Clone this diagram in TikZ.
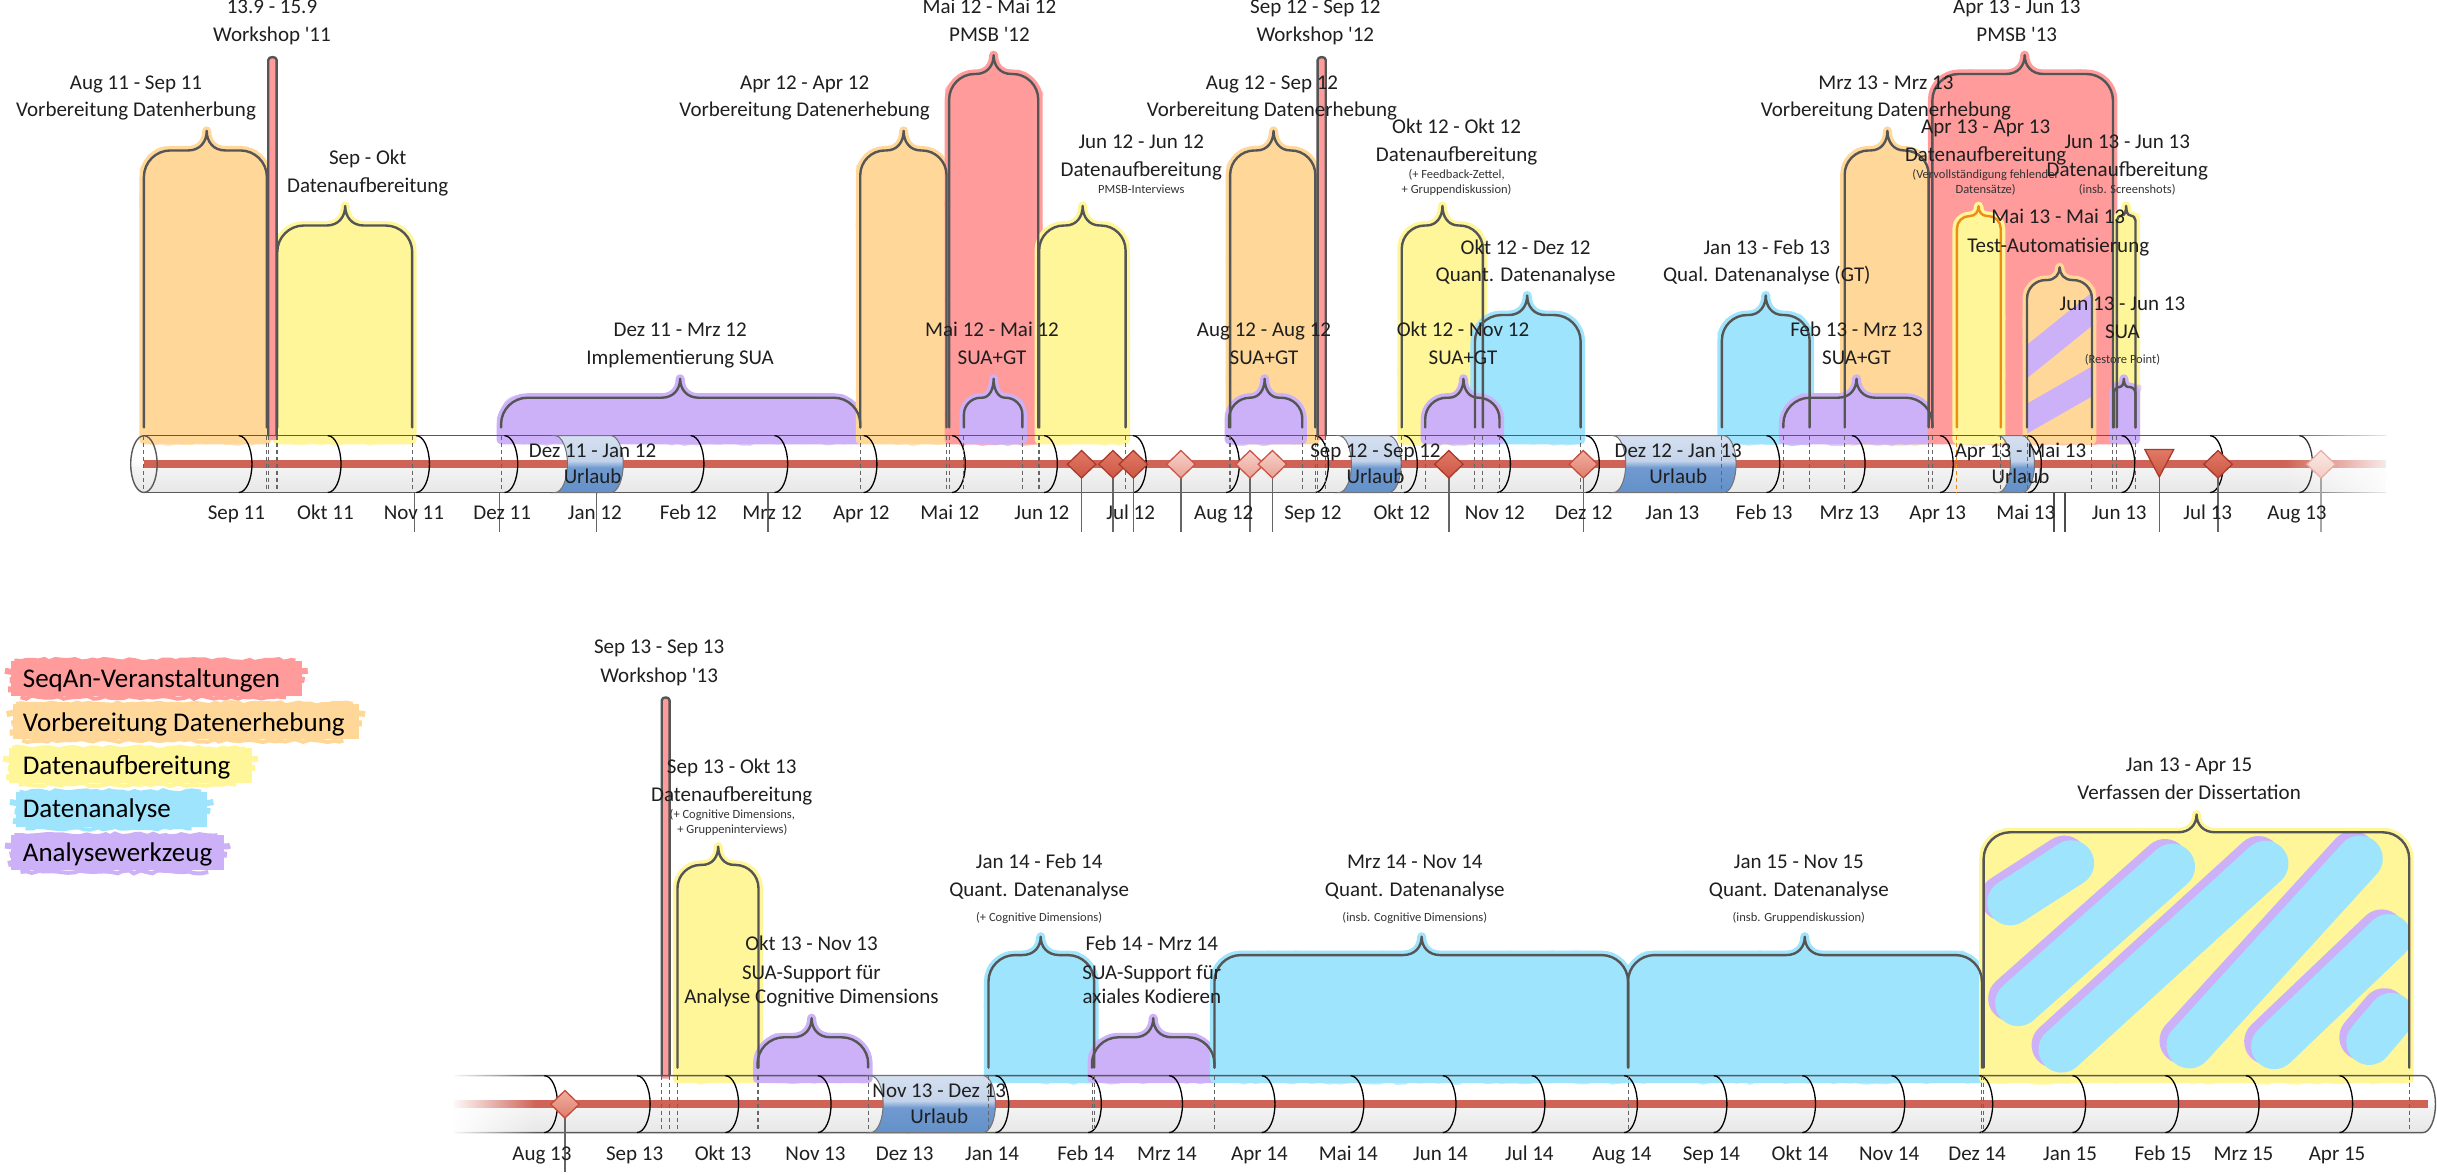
\documentclass[tikz,border=0pt]{standalone}
\usepackage{fontspec}
\setmainfont{Carlito}
\usetikzlibrary{shapes.geometric,fadings,decorations.pathmorphing}
\definecolor{cRe}{RGB}{255,155,155}
\definecolor{cOr}{RGB}{255,216,153}
\definecolor{cYe}{RGB}{255,246,153}
\definecolor{cBl}{RGB}{158,228,253}
\definecolor{cPu}{RGB}{204,176,248}
\definecolor{cLine}{RGB}{85,85,85}
\definecolor{cRed}{RGB}{207,99,86}
\definecolor{cOrLine}{RGB}{240,140,20}
\definecolor{dDT}{RGB}{225,122,102}\definecolor{dDB}{RGB}{204,86,68}\definecolor{dDR}{RGB}{170,58,44}
\definecolor{dMT}{RGB}{242,175,160}\definecolor{dMB}{RGB}{222,125,108}\definecolor{dMR}{RGB}{195,75,60}
\definecolor{dLT}{RGB}{248,210,203}\definecolor{dLB}{RGB}{232,162,150}\definecolor{dLR}{RGB}{205,85,70}
\definecolor{dFT}{RGB}{251,233,229}\definecolor{dFB}{RGB}{242,204,196}\definecolor{dFR}{RGB}{232,175,165}
\definecolor{uTop}{RGB}{232,238,247}
\definecolor{uMid}{RGB}{196,212,234}
\definecolor{uLow}{RGB}{112,154,208}
\definecolor{uBot}{RGB}{86,134,194}
\pgfdeclareverticalshading{cyl}{100bp}{color(0bp)=(gray!6); color(22bp)=(gray!20); color(45bp)=(gray!10); color(55bp)=(white); color(100bp)=(white)}
\pgfdeclareverticalshading{urlaub}{100bp}{color(0bp)=(uBot); color(47bp)=(uLow); color(53bp)=(uMid); color(100bp)=(uTop)}

\newcommand\evcalc[6]{%
  \pgfmathsetmacro\bxA{#1}\pgfmathsetmacro\bxB{#2}%
  \pgfmathsetmacro\byT{#3}\pgfmathsetmacro\bxP{#4}%
  \pgfmathsetmacro\byP{#5}\pgfmathsetmacro\byB{#6}%
  \pgfmathsetmacro\bR{min(17,(#2-#1)/3.5)}%
  \pgfmathsetmacro\bQ{min(12,(#2-#1)/5)}%
  \pgfmathsetmacro\bC{0.45*\bR}%
  \pgfmathsetmacro\byM{#3-0.45*(#3-#5)}%
}
\newcommand\bracepts{(\bxA,\byB) -- (\bxA,\byT+\bR) .. controls (\bxA,\byT+\bC) and (\bxA+\bC,\byT) .. (\bxA+\bR,\byT) -- (\bxP-\bQ,\byT) .. controls (\bxP-0.35*\bQ,\byT) and (\bxP,\byM) .. (\bxP,\byP) .. controls (\bxP,\byM) and (\bxP+0.35*\bQ,\byT) .. (\bxP+\bQ,\byT) -- (\bxB-\bR,\byT) .. controls (\bxB-\bC,\byT) and (\bxB,\byT+\bC) .. (\bxB,\byT+\bR) -- (\bxB,\byB)}
\newcommand\urlaub[4]{%
  \pgfmathsetmacro\uM{(#3+#4)/2}\pgfmathsetmacro\uK{0.552*(#4-#3)/2}%
  \path[shade, shading=urlaub, draw=black!55, line width=1pt] (#1,#3) -- (#2,#3) .. controls (#2+4.4,#3) and (#2+8,\uM-\uK) .. (#2+8,\uM) .. controls (#2+8,\uM+\uK) and (#2+4.4,#4) .. (#2,#4) -- (#1,#4) .. controls (#1+4.4,#4) and (#1+8,\uM+\uK) .. (#1+8,\uM) .. controls (#1+8,\uM-\uK) and (#1+4.4,#3) .. (#1,#3) -- cycle;}
\newcommand\wsfill[4]{\path[fill=cRe] (#1,#4) -- (#1,#3+2) .. controls (#1,#3-0.5) and (#2,#3-0.5) .. (#2,#3+2) -- (#2,#4) -- cycle;}
\newcommand\wsline[4]{\draw[bracel=cLine] (#1,#4) -- (#1,#3+2) .. controls (#1,#3-0.5) and (#2,#3-0.5) .. (#2,#3+2) -- (#2,#4);}
\newcommand\brush[4]{%
  \fill[#1] (#3+4,#2+1.5) rectangle (#4-4,#2+24);
  \draw[#1, line width=6pt, rough] (#3+6,#2+2) -- (#4-8,#2+2);
  \draw[#1, line width=6pt, rough] (#3,#2+8) -- (#4,#2+8);
  \draw[#1, line width=6pt, rough] (#3+3,#2+14) -- (#4-2,#2+14);
  \draw[#1, line width=6pt, rough] (#3+2,#2+20) -- (#4-5,#2+20);
  \draw[#1, line width=4pt, rough] (#3+10,#2+25) -- (#4-14,#2+25);}

\tikzset{
  evfill/.style={fill=#1, draw=#1, line width=9pt, line join=round},
  rough/.style={decorate, decoration={random steps, segment length=6pt, amplitude=1.6pt}},
  evrag/.style={draw=#1, line width=5pt, opacity=0.6, line join=round, decorate, decoration={random steps, segment length=7pt, amplitude=2.4pt}},
  bracel/.style={draw=#1, line width=2.4pt, line join=round, line cap=round},
  lab/.style={inner sep=0pt, font=\fontsize{21}{25}\selectfont, text height=13.5pt, text depth=0pt, text=black!88},
  slab/.style={inner sep=0pt, font=\fontsize{12.5}{15}\selectfont, text height=8pt, text depth=0pt, text=black!80},
  leg/.style={inner sep=0pt, font=\fontsize{27}{32}\selectfont, text height=17.4pt, text depth=0pt, anchor=west, text=black},
  cylline/.style={draw=black!65, line width=1.4pt},
  marc/.style={draw=black, line width=1.3pt},
  bdash/.style={draw=black!60, line width=1pt, dash pattern=on 4pt off 3pt},
  redl/.style={draw=cRed, line width=8pt},
  stem/.style={draw=black!60, line width=1.3pt},
  dmd/.style={diamond, aspect=1, minimum width=29pt, minimum height=28pt, inner sep=0pt, line width=1.3pt},
  dmdD/.style={dmd, top color=dDT, bottom color=dDB, draw=dDR},
  dmdM/.style={dmd, top color=dMT, bottom color=dMB, draw=dMR},
  dmdL/.style={dmd, top color=dLT, bottom color=dLB, draw=dLR},
  dmdF/.style={dmd, top color=dFT, bottom color=dFB, draw=dFR},
}
\def\topev{%
92.6/171.7/96.8/133/84.2/cOr/cLine,%
178.4/265.2/145.1/222.1/132.5/cYe/cLine,%
322.4/553.5/255.9/437.6/243.7/cPu/cLine,%
553.5/609/96.8/581.4/84.2/cOr/cLine,%
610.7/668/47.6/639.3/35.5/cRe/cLine,%
620.2/657.8/255.9/639.3/243.7/cPu/cLine,%
668.6/724.2/145.1/696.6/132.5/cYe/cLine,%
791.5/846.3/96.8/819.4/84.2/cOr/cLine,%
790.8/837.9/255.9/813.7/243.7/cPu/cLine,%
901.9/954.1/145.1/928.1/132.5/cYe/cLine,%
949/1017/202.7/982.6/190.1/cBl/cLine,%
917/964.8/255.9/941.6/243.7/cPu/cLine,%
1107.9/1164.3/202.7/1136.1/190.1/cBl/cLine,%
1186.9/1240.9/96.8/1214.4/84.2/cOr/cLine,%
1147.4/1243.3/255.9/1194.5/243.7/cPu/cLine,%
1243.3/1359.5/47.6/1302.7/35.5/cRe/cLine,%
1259.1/1287.3/139/1273/132.6/cYe/cOrLine,%
1304.2/1346/180.2/1325.2/172/cOr/cLine,%
1362/1374/138.5/1368/132.5/cYe/cLine,%
1360/1374/249/1366.5/243.7/cPu/cLine}
\def\botev{%
435.9/488/556.5/462.1/544.7/cYe/cLine,%
487.4/558.6/667.4/522.2/655.1/cPu/cLine,%
636/704/614.5/669.6/602.7/cBl/cLine,%
702.6/781.4/667.4/742/655.1/cPu/cLine,%
781.4/1047.5/614.5/914.7/602.7/cBl/cLine,%
1047.5/1275.2/614.5/1161.2/602.7/cBl/cLine,%
1276.3/1550.1/535.5/1413.3/524.1/cYe/cLine}

\begin{document}
\begin{tikzpicture}[x=1.554pt,y=-1.554pt]
\pgfmathsetseed{4242}
\useasboundingbox (0,0) rectangle (1568,756);
\fill[white] (0,0) rectangle (1568,756);

% ---------- cylinder bodies
\path[shade, shading=cyl] (92.6,280.3) rectangle (1535,316.9);
\path[shade, shading=cyl] (92.6,298.6) ellipse [x radius=13.2pt, y radius=28.4pt];
\path[shade, shading=cyl] (292,692.1) rectangle (1559,728.7);
\path[shade, shading=cyl] (1559,692.1) .. controls (1563.4,692.1) and (1567,700.3) .. (1567,710.4) .. controls (1567,720.5) and (1563.4,728.7) .. (1559,728.7) -- cycle;

% ---------- event fills
\foreach \pA/\pB/\pC/\pD/\pE/\pF/\pG in \topev {
  \evcalc{\pA}{\pB}{\pC}{\pD}{\pE}{275}
  \path[evrag=\pF] \bracepts -- (\bxB,284) -- (\bxA,284) -- cycle;
  \path[evfill=\pF] \bracepts -- (\bxB,283) -- (\bxA,283) -- cycle;
}
\begin{scope}
  \evcalc{1304.2}{1346}{180.2}{1325.2}{172}{275}
  \clip \bracepts -- (\bxB,283) -- (\bxA,283) -- cycle;
  \draw[cPu, line width=26pt, line cap=round] (1300,236) -- (1352,194);
  \draw[cPu, line width=26pt, line cap=round] (1296,274) -- (1352,242);
\end{scope}
\foreach \pA/\pB/\pC/\pD/\pE/\pF/\pG in \botev {
  \evcalc{\pA}{\pB}{\pC}{\pD}{\pE}{686.9}
  \path[evrag=\pF] \bracepts -- (\bxB,695) -- (\bxA,695) -- cycle;
  \path[evfill=\pF] \bracepts -- (\bxB,694) -- (\bxA,694) -- cycle;
}
\begin{scope}
  \evcalc{1276.3}{1550.1}{535.5}{1413.3}{524.1}{686.9}
  \clip \bracepts -- (\bxB,694) -- (\bxA,694) -- cycle;
  \foreach \sa/\sb/\sc/\sd in {1293.4/580.6/1332.6/555.4, 1298.5/645.4/1397.5/557.6, 1326.4/675.3/1457.6/555.7, 1408.7/672.6/1518.3/552.4, 1463.2/673.1/1536.8/602.9, 1524.4/670.4/1538.6/653.6}{
    \draw[cPu, line width=46pt, line cap=round] (\sa-4.5,\sb-3) -- (\sc-4.5,\sd-3);
    \draw[cBl, line width=46pt, line cap=round] (\sa,\sb) -- (\sc,\sd);
  }
\end{scope}
\wsfill{172.6}{178}{36.6}{283}
\wsfill{847.8}{853}{36.6}{283}
\wsfill{425.8}{430.8}{448.6}{694}

% ---------- cylinder outlines and red lines
\draw[redl] (92.6,298.6) -- (1535,298.6);
\draw[redl] (292,710.4) -- (1562,710.4);
\draw[cylline] (92.6,280.3) -- (1535,280.3) (92.6,316.9) -- (1535,316.9);
\draw[cylline] (92.6,298.6) ellipse [x radius=13.2pt, y radius=28.4pt];
\draw[cylline] (292,692.1) -- (1559,692.1) .. controls (1563.4,692.1) and (1567,700.3) .. (1567,710.4) .. controls (1567,720.5) and (1563.4,728.7) .. (1559,728.7) -- (292,728.7);
\foreach \m in {153.6,210.9,267.8,324.6,384.2,444.4,498.3,555.7,612.6,671.8,729,788.9,846.2,903.4,963.3,1020.5,1077.5,1136.6,1191.5,1248.2,1304.9,1365,1422,1479.4}
  \draw[marc] (\m,280.3) .. controls (\m+4.7,280.3) and (\m+8.5,288.5) .. (\m+8.5,298.6) .. controls (\m+8.5,308.7) and (\m+4.7,316.9) .. (\m,316.9);
\foreach \m in {350.2,409.8,466.7,526.2,583.6,640.5,700.1,752.3,811.8,869,928.3,985.5,1045,1102.6,1159.6,1217,1273.6,1333.4,1393.2,1445,1505.2}
  \draw[marc] (\m,692.1) .. controls (\m+4.7,692.1) and (\m+8.5,700.3) .. (\m+8.5,710.4) .. controls (\m+8.5,720.5) and (\m+4.7,728.7) .. (\m,728.7);

% ---------- Urlaub
\urlaub{357.1}{393}{280.3}{316.9}
\urlaub{861.5}{893.5}{280.3}{316.9}
\urlaub{1038}{1109}{280.3}{316.9}
\urlaub{1285.5}{1301}{280.3}{316.9}
\urlaub{560.2}{632.5}{692.1}{728.7}

% ---------- dashed boundaries
\foreach \x in {92.6,171.7,172.6,178,178.4,265.2,322.4,553.5,609,610.7,620.2,657.8,668,668.6,724.2,790.8,791.5,837.9,846.3,847.8,853,901.9,917,949,954.1,964.8,1017,1107.9,1147.4,1164.3,1186.9,1240.9,1243.3,1287.3,1304.2,1346,1359.5,1362,1374}
  \draw[bdash] (\x,280.3) -- (\x,316.9);
\draw[bdash, draw=cOrLine] (1259.1,280.3) -- (1259.1,316.9);
\foreach \x in {425.8,430.8,435.9,487.4,488,558.6,636,702.6,704,781.4,1047.5,1275.2,1276.3,1550.1}
  \draw[bdash] (\x,692.1) -- (\x,728.7);

% ---------- fades
\fill[white, path fading=west] (1470,274) rectangle (1545,324);
\fill[white] (1544,274) rectangle (1568,324);
\fill[white, path fading=east] (290,686) rectangle (345,735);

% ---------- stems and milestones
\foreach \x in {695.9,716.1,729.2,759.8,804.3,818.7,932.2,1018.7,1389.3,1427.1}
  \draw[stem] (\x,298.7) -- (\x,342.3);
\draw[stem, draw=black!35] (1493.4,298.7) -- (1493.4,342.3);
\foreach \x in {266.9,321.4,383.7,494.1}
  \draw[stem] (\x,316.9) -- (\x,342.3);
\draw[stem, draw=black!70, line width=2.4pt] (1321.6,316.9) -- (1321.6,342.3);
\draw[stem, draw=black!70, line width=2.4pt] (1328.5,316.9) -- (1328.5,342.3);
\draw[stem] (363.5,710.5) -- (363.5,754);
\node[dmdD] (d1) at (695.9,298.7) {};
\node[dmdD] (d2) at (716.1,298.7) {};
\node[dmdD] (d3) at (729.2,298.7) {};
\node[dmdL] (d4) at (759.8,298.7) {};
\node[dmdL] (d5) at (804.3,298.7) {};
\node[dmdL] (d6) at (818.7,298.7) {};
\node[dmdD] (d7) at (932.2,298.7) {};
\node[dmdM] (d8) at (1018.7,298.7) {};
\node[dmdD] (d9) at (1427.1,298.7) {};
\node[dmdF] (d10) at (1493.4,298.7) {};
\node[dmdM] (d11) at (363.5,710.5) {};
\path[top color=dDT, bottom color=dDB, draw=dDR, line width=1.3pt] (1380,289.2) -- (1398.6,289.2) -- (1389.3,306.9) -- cycle;

% ---------- brace outlines
\foreach \pA/\pB/\pC/\pD/\pE/\pF/\pG in \topev {
  \evcalc{\pA}{\pB}{\pC}{\pD}{\pE}{275}
  \draw[bracel=\pG] \bracepts;
}
\foreach \pA/\pB/\pC/\pD/\pE/\pF/\pG in \botev {
  \evcalc{\pA}{\pB}{\pC}{\pD}{\pE}{686.9}
  \draw[bracel=\pG] \bracepts;
}
\wsline{172.6}{178}{36.6}{280.3}
\wsline{847.8}{853}{36.6}{280.3}
\wsline{425.8}{430.8}{448.6}{692.1}

% ---------- month labels
\foreach \x/\t [count=\i] in {152.1/Sep 11,209.4/Okt 11,266.3/Nov 11,323.1/Dez 11,382.7/Jan 12,442.9/Feb 12,496.8/Mrz 12,554.2/Apr 12,611.1/Mai 12,670.3/Jun 12,727.5/Jul 12,787.4/Aug 12,844.7/Sep 12,901.9/Okt 12,961.8/Nov 12,1019/Dez 12,1076/Jan 13,1135.1/Feb 13,1190/Mrz 13,1246.7/Apr 13,1303.4/Mai 13,1363.5/Jun 13,1420.5/Jul 13,1477.9/Aug 13}
  \node[lab] (mt\i) at (\x,330.2) {\t};
\foreach \x/\t [count=\i] in {348.7/Aug 13,408.3/Sep 13,465.2/Okt 13,524.7/Nov 13,582.1/Dez 13,638.3/Jan 14,698.6/Feb 14,750.8/Mrz 14,810.3/Apr 14,867.5/Mai 14,926.8/Jun 14,984/Jul 14,1043.5/Aug 14,1101.1/Sep 14,1158.1/Okt 14,1215.5/Nov 14,1272.1/Dez 14,1331.9/Jan 15,1391.7/Feb 15,1443.5/Mrz 15,1503.7/Apr 15}
  \node[lab] (mb\i) at (\x,742.4) {\t};

% ---------- Urlaub labels
\node[lab] (u1a) at (381.3,289.8) {Dez 11 - Jan 12};
\node[lab] (u1b) at (381.3,306.9) {Urlaub};
\node[lab] (u2a) at (885,289.8) {Sep 12 - Sep 12};
\node[lab] (u2b) at (885,306.9) {Urlaub};
\node[lab] (u3a) at (1079.8,289.8) {Dez 12 - Jan 13};
\node[lab] (u3b) at (1079.8,306.9) {Urlaub};
\node[lab] (u4a) at (1300,289.8) {Apr 13 - Mai 13};
\node[lab] (u4b) at (1300,306.9) {Urlaub};
\node[lab] (u5a) at (604.3,701.6) {Nov 13 - Dez 13};
\node[lab] (u5b) at (604.3,718.8) {Urlaub};

% ---------- event labels (top)
\node[lab] (l1a) at (87.5,53.2) {Aug 11 - Sep 11};
\node[lab] (l1b) at (87.5,70.9) {Vorbereitung Datenherbung};
\node[lab] (l2a) at (175,4.4) {13.9 - 15.9};
\node[lab] (l2b) at (175,22.2) {Workshop \textquotesingle 11};
\node[lab] (l3a) at (236.6,101.5) {Sep - Okt};
\node[lab] (l3b) at (236.6,119.2) {Datenaufbereitung};
\node[lab] (l4a) at (437.6,212.3) {Dez 11 - Mrz 12};
\node[lab] (l4b) at (437.6,230) {Implementierung SUA};
\node[lab] (l5a) at (517.7,53.2) {Apr 12 - Apr 12};
\node[lab] (l5b) at (517.7,70.9) {Vorbereitung Datenerhebung};
\node[lab] (l6a) at (636.6,4.4) {Mai 12 - Mai 12};
\node[lab] (l6b) at (636.6,22.2) {PMSB \textquotesingle 12};
\node[lab] (l7a) at (638.3,212.3) {Mai 12 - Mai 12};
\node[lab] (l7b) at (638.3,230) {SUA+GT};
\node[lab] (l8a) at (734.3,91.3) {Jun 12 - Jun 12};
\node[lab] (l8b) at (734.3,109) {Datenaufbereitung};
\node[slab] (l8c) at (734.3,121.9) {PMSB-Interviews};
\node[lab] (l9a) at (818.4,53.2) {Aug 12 - Sep 12};
\node[lab] (l9b) at (818.4,70.9) {Vorbereitung Datenerhebung};
\node[lab] (l10a) at (846.3,4.4) {Sep 12 - Sep 12};
\node[lab] (l10b) at (846.3,22.2) {Workshop \textquotesingle 12};
\node[lab] (l11a) at (813.3,212.3) {Aug 12 - Aug 12};
\node[lab] (l11b) at (813.3,230) {SUA+GT};
\node[lab] (l12a) at (937.2,81.5) {Okt 12 - Okt 12};
\node[lab] (l12b) at (937.2,99.3) {Datenaufbereitung};
\node[slab] (l12c) at (937.2,112.3) {(+ Feedback-Zettel,};
\node[slab] (l12d) at (937.2,121.9) {+ Gruppendiskussion)};
\node[lab] (l13a) at (981.6,159.1) {Okt 12 - Dez 12};
\node[lab] (l13b) at (981.6,176.8) {Quant. Datenanalyse};
\node[lab] (l14a) at (941.3,212.3) {Okt 12 - Nov 12};
\node[lab] (l14b) at (941.3,230) {SUA+GT};
\node[lab] (l15a) at (1136.8,159.1) {Jan 13 - Feb 13};
\node[lab] (l15b) at (1136.8,176.8) {Qual. Datenanalyse (GT)};
\node[lab] (l16a) at (1194.5,212.3) {Feb 13 - Mrz 13};
\node[lab] (l16b) at (1194.5,230) {SUA+GT};
\node[lab] (l17a) at (1213.4,53.2) {Mrz 13 - Mrz 13};
\node[lab] (l17b) at (1213.4,70.9) {Vorbereitung Datenerhebung};
\node[lab] (l18a) at (1297.6,4.4) {Apr 13 - Jun 13};
\node[lab] (l18b) at (1297.6,22.2) {PMSB \textquotesingle 13};
\node[lab] (l19a) at (1277.6,81.5) {Apr 13 - Apr 13};
\node[lab] (l19b) at (1277.6,99.3) {Datenaufbereitung};
\node[slab] (l19c) at (1277.6,112.3) {(Vervollständigung fehlender};
\node[slab] (l19d) at (1277.6,121.9) {Datensätze)};
\node[lab] (l20a) at (1368.7,91.3) {Jun 13 - Jun 13};
\node[lab] (l20b) at (1368.7,109) {Datenaufbereitung};
\node[slab] (l20c) at (1368.7,121.9) {(insb. Screenshots)};
\node[lab] (l21a) at (1324.3,139.6) {Mai 13 - Mai 13};
\node[lab] (l21b) at (1324.3,157.8) {Test-Automatisierung};
\node[lab] (l22a) at (1365.6,195.4) {Jun 13 - Jun 13};
\node[lab] (l22b) at (1365.6,213.2) {SUA};
\node[slab] (l22c) at (1365.6,231.1) {(Restore Point)};

% ---------- event labels (bottom)
\node[lab] (b1a) at (424.1,416.3) {Sep 13 - Sep 13};
\node[lab] (b1b) at (424.1,434.5) {Workshop \textquotesingle 13};
\node[lab] (b2a) at (470.8,493.5) {Sep 13 - Okt 13};
\node[lab] (b2b) at (470.8,511.2) {Datenaufbereitung};
\node[slab] (b2c) at (471.2,524.1) {(+ Cognitive Dimensions,};
\node[slab] (b2d) at (471.2,534) {+ Gruppeninterviews)};
\node[lab] (b3a) at (522.1,607.4) {Okt 13 - Nov 13};
\node[lab] (b3b) at (522.1,625.6) {SUA-Support für};
\node[lab] (b3c) at (522.1,641.4) {Analyse Cognitive Dimensions};
\node[lab] (b4a) at (668.6,554.3) {Jan 14 - Feb 14};
\node[lab] (b4b) at (668.6,572.5) {Quant. Datenanalyse};
\node[slab] (b4c) at (668.6,590.2) {(+ Cognitive Dimensions)};
\node[lab] (b5a) at (741.1,607.4) {Feb 14 - Mrz 14};
\node[lab] (b5b) at (741.1,625.6) {SUA-Support für};
\node[lab] (b5c) at (741.1,641.4) {axiales Kodieren};
\node[lab] (b6a) at (910.3,554.3) {Mrz 14 - Nov 14};
\node[lab] (b6b) at (910.3,572.5) {Quant. Datenanalyse};
\node[slab] (b6c) at (910.3,590.2) {(insb. Cognitive Dimensions)};
\node[lab] (b7a) at (1157.4,554.3) {Jan 15 - Nov 15};
\node[lab] (b7b) at (1157.4,572.5) {Quant. Datenanalyse};
\node[slab] (b7c) at (1157.4,590.2) {(insb. Gruppendiskussion)};
\node[lab] (b8a) at (1408.5,492.3) {Jan 13 - Apr 15};
\node[lab] (b8b) at (1408.5,510) {Verfassen der Dissertation};

% ---------- legend
\brush{cRe}{423.6}{3.2}{198}
\brush{cOr}{451.5}{4.3}{234.9}
\brush{cYe}{480}{2}{166}
\brush{cBl}{508}{6.4}{137.3}
\brush{cPu}{536}{3.2}{148}
\node[leg] (g1) at (14.6,436.8) {SeqAn-Veranstaltungen};
\node[leg] (g2) at (14.6,465.1) {Vorbereitung Datenerhebung};
\node[leg] (g3) at (14.6,492.8) {Datenaufbereitung};
\node[leg] (g4) at (14.6,520.6) {Datenanalyse};
\node[leg] (g5) at (14.6,548.4) {Analysewerkzeug};
\end{tikzpicture}
\end{document}
